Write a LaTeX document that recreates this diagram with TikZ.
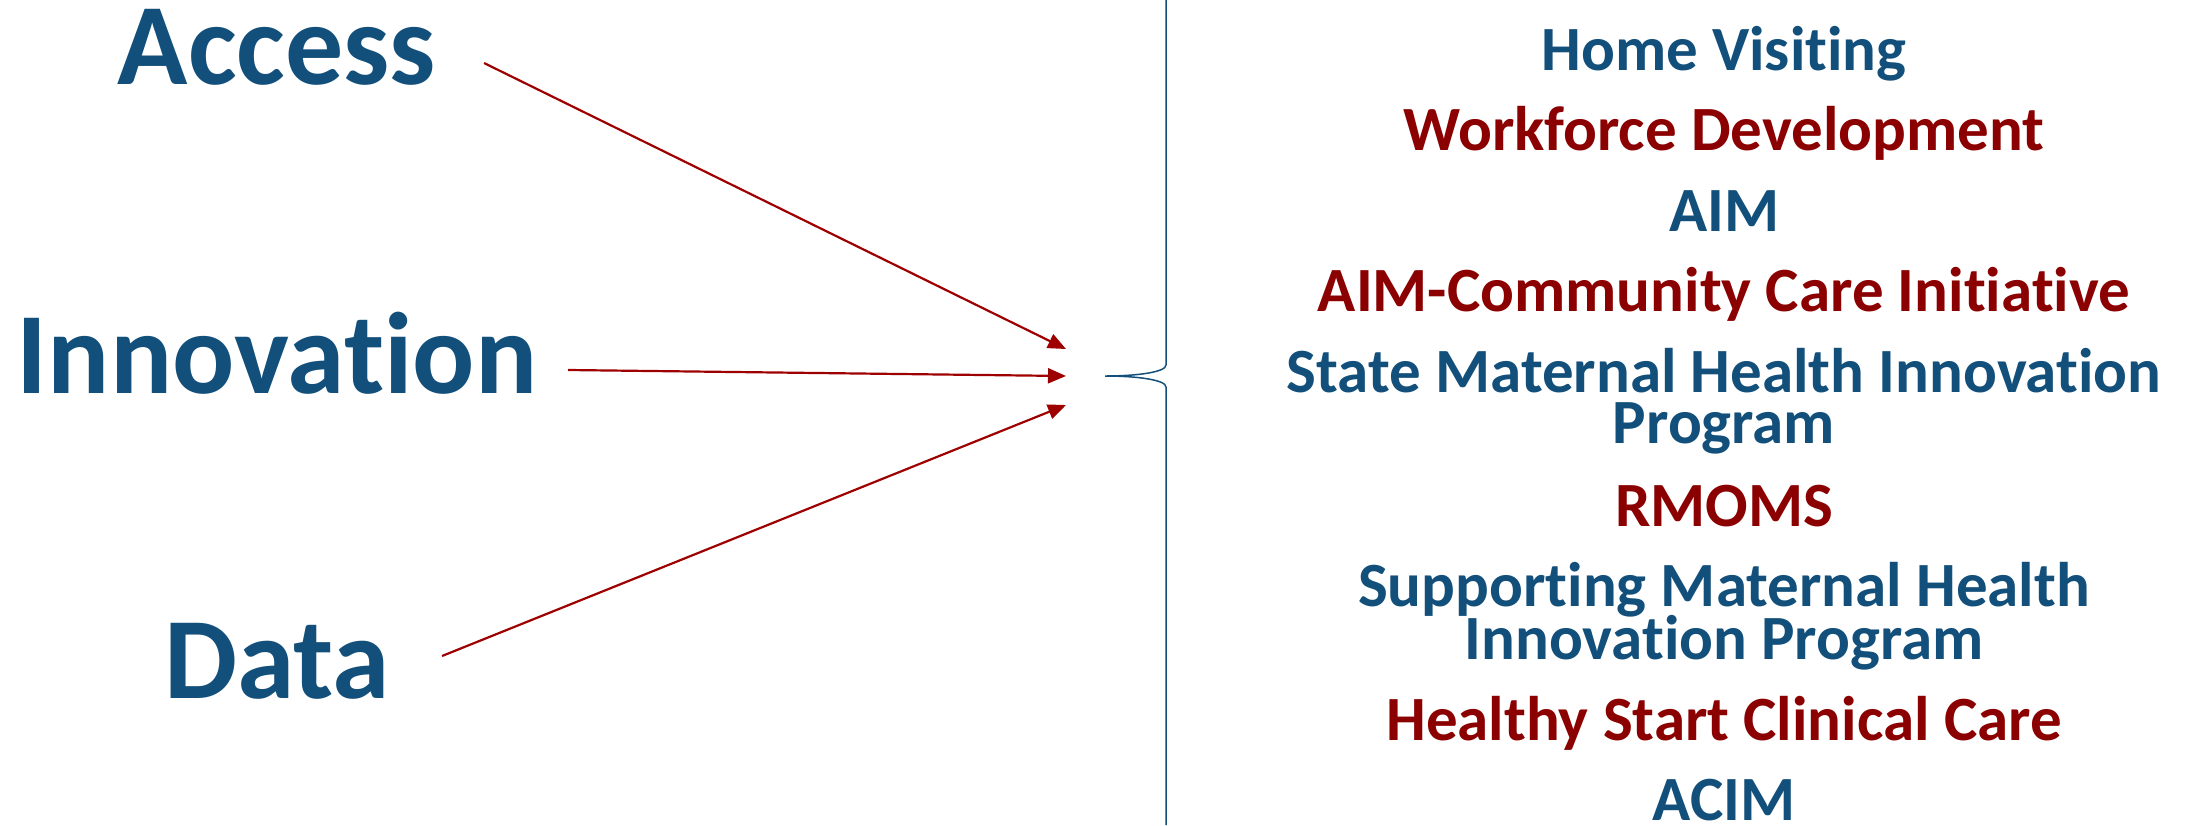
\documentclass[tikz,border=0pt]{standalone}
\usepackage{fontspec}
\setmainfont{Carlito}[Ligatures={NoCommon}]
\usetikzlibrary{arrows.meta}
\definecolor{tblue}{RGB}{18,79,122}
\definecolor{tred}{RGB}{139,0,0}
\definecolor{ared}{RGB}{158,0,0}
\begin{document}
\begin{tikzpicture}[x=1pt,y=-1pt,
  big/.style={font=\fontsize{116}{116}\selectfont\bfseries, text=tblue, anchor=base, inner sep=0pt},
  item/.style={font=\fontsize{63}{63}\selectfont\bfseries, anchor=base, inner sep=0pt},
  blueitem/.style={item, text=tblue},
  reditem/.style={item, text=tred},
  conn/.style={draw=ared, line width=2.2pt, -{Triangle[length=18pt,width=15pt]}},
  bracepath/.style={draw=tblue, line width=1.5pt}]
\useasboundingbox (0,0) rectangle (2199,825);
% left labels
\node[big] (access) at (277,84) {Access};
\node[big] (innov) at (277,393) {Innovation};
\node[big] (data) at (277,698) {Data};
% arrow start / end points
\coordinate (a1) at (484,63);
\coordinate (a2) at (568,370);
\coordinate (a3) at (442,656);
\coordinate (e1) at (1066,349);
\coordinate (e2) at (1066,376);
\coordinate (e3) at (1066,405);
\draw[conn] (a1) -- (e1);
\draw[conn] (a2) -- (e2);
\draw[conn] (a3) -- (e3);
% brace
\coordinate (btop) at (1166,0);
\coordinate (bup) at (1166,365);
\coordinate (btip) at (1105,376);
\coordinate (bdn) at (1166,387);
\coordinate (bbot) at (1166,825);
\draw[bracepath] (btop) -- (bup) .. controls (1166,372) and (1138,376) .. (btip)
  .. controls (1138,376) and (1166,380) .. (bdn) -- (bbot);
% right list
\node[blueitem] (hv) at (1724,70) {Home Visiting};
\node[reditem] (wd) at (1724,150) {Workforce Development};
\node[blueitem] (aim) at (1724,231) {AIM};
\node[reditem] (aimcc) at (1724,311) {AIM-Community Care Initiative};
\node[blueitem] (smhi1) at (1724,392) {State Maternal Health Innovation};
\node[blueitem] (smhi2) at (1724,443) {Program};
\node[reditem] (rmoms) at (1724,526) {RMOMS};
\node[blueitem] (sup1) at (1724,606) {Supporting Maternal Health};
\node[blueitem] (sup2) at (1724,659) {Innovation Program};
\node[reditem] (hs) at (1724,740) {Healthy Start Clinical Care};
\node[blueitem] (acim) at (1724,820) {ACIM};
\end{tikzpicture}
\end{document}
